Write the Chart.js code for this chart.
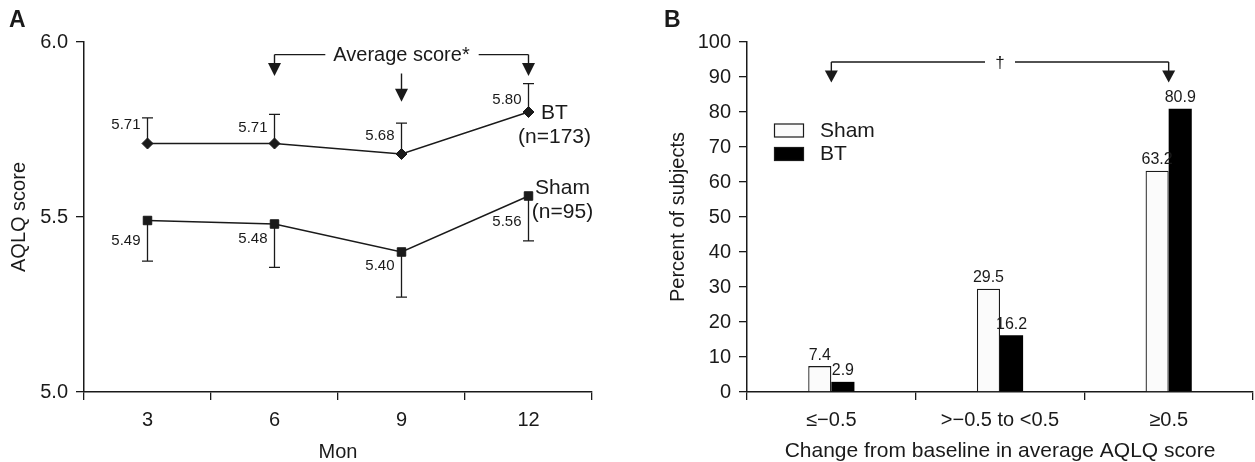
<!DOCTYPE html>
<html><head><meta charset="utf-8">
<script src="https://cdn.jsdelivr.net/npm/chart.js@4"></script>
<style>
html,body{margin:0;padding:0;background:#fff;}
#wrap{position:relative;width:1255px;height:462px;overflow:hidden;background:#fff;}
canvas{position:absolute;top:0;}
#ca{left:0;} #cb{left:620px;}
</style></head><body>
<div id="wrap"><canvas id="ca" width="620" height="462"></canvas><canvas id="cb" width="635" height="462"></canvas></div>
<script>
// ---- Panel A data ----
const months = ['3', '6', '9', '12'];
const btMean = [5.71, 5.71, 5.68, 5.80];
const btUpper = [5.783, 5.793, 5.768, 5.881];
const shamMean = [5.49, 5.48, 5.40, 5.56];
const shamLower = [5.374, 5.356, 5.271, 5.432];
const yTicksA = [5.0, 5.5, 6.0];

// ---- Panel B data ----
const changeCats = ['≤−0.5', '>−0.5 to <0.5', '≥0.5'];
const shamPct = [7.4, 29.5, 63.2];
const btPct = [2.9, 16.2, 80.9];
const yTicksB = [0, 10, 20, 30, 40, 50, 60, 70, 80, 90, 100];

const INK = '#1a1a1a';
const FONT = "'Liberation Sans', Arial, Helvetica, sans-serif";
Chart.defaults.font.family = FONT;
Chart.defaults.color = INK;

function arrowDown(ctx, x, y0, tip, headH, headW) {
  ctx.beginPath(); ctx.moveTo(x, y0); ctx.lineTo(x, tip - headH + 1); ctx.stroke();
  ctx.beginPath(); ctx.moveTo(x - headW / 2, tip - headH); ctx.lineTo(x + headW / 2, tip - headH); ctx.lineTo(x, tip); ctx.closePath(); ctx.fill();
}

const btOff = [-19, -16, -18, -12];
const shamOff = [20, 15, 14, 26];

const panelA = {
  id: 'panelA',
  beforeDatasetsDraw(chart) {
    const {ctx, scales: {x, y}} = chart;
    ctx.save();
    ctx.strokeStyle = INK; ctx.lineWidth = 1.3;
    [[btMean, btUpper], [shamMean, shamLower]].forEach(([m, b]) => m.forEach((v, i) => {
      const px = x.getPixelForValue(i);
      const y0 = y.getPixelForValue(v), y1 = y.getPixelForValue(b[i]);
      ctx.beginPath(); ctx.moveTo(px, y0); ctx.lineTo(px, y1);
      ctx.moveTo(px - 5.5, y1); ctx.lineTo(px + 5.5, y1); ctx.stroke();
    }));
    ctx.restore();
  },
  afterDraw(chart) {
    const {ctx, scales: {x, y}} = chart;
    ctx.save();
    ctx.fillStyle = INK; ctx.strokeStyle = INK;
    // value labels
    ctx.font = '15px ' + FONT; ctx.textAlign = 'right'; ctx.textBaseline = 'middle';
    btMean.forEach((v, i) => ctx.fillText(v.toFixed(2), x.getPixelForValue(i) - 7, y.getPixelForValue(v) + btOff[i]));
    shamMean.forEach((v, i) => ctx.fillText(v.toFixed(2), x.getPixelForValue(i) - 7, y.getPixelForValue(v) + shamOff[i]));
    // series labels
    const last = months.length - 1;
    const lx = x.getPixelForValue(last);
    ctx.font = '21px ' + FONT; ctx.textAlign = 'center';
    const byBT = y.getPixelForValue(btMean[last]);
    ctx.fillText(chart.data.datasets[0].label, lx + 26, byBT + 1);
    ctx.fillText('(n=173)', lx + 26, byBT + 25);
    const bySh = y.getPixelForValue(shamMean[last]);
    ctx.fillText(chart.data.datasets[1].label, lx + 34, bySh - 8);
    ctx.fillText('(n=95)', lx + 34, bySh + 16);
    // Average score bracket
    const x6 = x.getPixelForValue(1), x9 = x.getPixelForValue(2), x12 = x.getPixelForValue(3);
    const yb = y.getPixelForValue(5.964), tip = y.getPixelForValue(5.903);
    const cx = (x6 + x12) / 2;
    ctx.font = '20px ' + FONT;
    const label = 'Average score*';
    const w = ctx.measureText(label).width;
    ctx.fillText(label, cx, yb + 1);
    ctx.lineWidth = 1.4;
    ctx.beginPath(); ctx.moveTo(cx - w / 2 - 8, yb); ctx.lineTo(x6, yb); ctx.stroke();
    ctx.beginPath(); ctx.moveTo(cx + w / 2 + 9, yb); ctx.lineTo(x12, yb); ctx.stroke();
    arrowDown(ctx, x6, yb, tip, 13, 13);
    arrowDown(ctx, x12, yb, tip, 13, 13);
    arrowDown(ctx, x9, y.getPixelForValue(5.91), y.getPixelForValue(5.829), 13, 13);
    // panel letter
    ctx.font = 'bold 23px ' + FONT; ctx.textAlign = 'left'; ctx.textBaseline = 'alphabetic';
    ctx.fillText('A', 9, 27);
    ctx.restore();
  }
};

const panelB = {
  id: 'panelB',
  afterDraw(chart) {
    const {ctx, scales: {x, y}, chartArea} = chart;
    ctx.save();
    ctx.fillStyle = INK; ctx.strokeStyle = INK;
    // bar labels
    ctx.font = '16px ' + FONT; ctx.textAlign = 'center'; ctx.textBaseline = 'middle';
    chart.data.datasets.forEach((ds, di) => {
      chart.getDatasetMeta(di).data.forEach((el, j) => {
        ctx.fillText(ds.data[j].toFixed(1), el.x, el.y - 11);
      });
    });
    // legend
    const lx = chartArea.left + 27;
    const ly = [123.5, 147];
    ctx.font = '21px ' + FONT; ctx.textAlign = 'left';
    chart.data.datasets.forEach((ds, di) => {
      ctx.fillStyle = ds.backgroundColor;
      ctx.fillRect(lx, ly[di], 30, 14);
      ctx.lineWidth = 1.2; ctx.strokeStyle = INK;
      ctx.strokeRect(lx + 0.5, ly[di] + 0.5, 29, 13);
      ctx.fillStyle = INK;
      ctx.fillText(ds.label, lx + 46, ly[di] + 7.5);
    });
    // dagger bracket
    const x0 = x.getPixelForValue(0), x1 = x.getPixelForValue(1), x2 = x.getPixelForValue(2);
    const yb = y.getPixelForValue(94.3), tip = y.getPixelForValue(88.4);
    ctx.lineWidth = 1.4; ctx.strokeStyle = INK;
    ctx.beginPath(); ctx.moveTo(x0, yb); ctx.lineTo(x1 - 15, yb); ctx.moveTo(x1 + 15, yb); ctx.lineTo(x2, yb); ctx.stroke();
    arrowDown(ctx, x0, yb, tip, 12, 13);
    arrowDown(ctx, x2, yb, tip, 12, 13);
    ctx.font = '17px ' + FONT; ctx.textAlign = 'center';
    ctx.fillText('†', x1, yb + 1);
    // panel letter
    ctx.font = 'bold 23px ' + FONT; ctx.textAlign = 'left'; ctx.textBaseline = 'alphabetic';
    ctx.fillText('B', 44, 27);
    ctx.restore();
  }
};

const axisGrid = {drawOnChartArea: false, drawTicks: true, tickLength: 8, color: INK, lineWidth: 1.3};
const axisBorder = {display: true, color: INK, width: 1.5};

new Chart(document.getElementById('ca'), {
  type: 'line',
  data: {
    labels: months,
    datasets: [
      {label: 'BT', data: btMean, borderColor: INK, backgroundColor: INK, borderWidth: 1.4, tension: 0,
       pointStyle: 'rectRot', pointRadius: 5.5, pointBackgroundColor: INK, pointBorderColor: INK, pointBorderWidth: 1},
      {label: 'Sham', data: shamMean, borderColor: INK, backgroundColor: INK, borderWidth: 1.4, tension: 0,
       pointStyle: 'rect', pointRadius: 6, pointBackgroundColor: INK, pointBorderColor: INK, pointBorderWidth: 1}
    ]
  },
  options: {
    responsive: false, animation: false, events: [],
    layout: {padding: {left: 0, top: 42, right: 28, bottom: 0}},
    plugins: {legend: {display: false}, tooltip: {enabled: false}},
    scales: {
      x: {
        type: 'category', offset: true,
        grid: Object.assign({offset: true}, axisGrid), border: axisBorder,
        ticks: {padding: 8, font: {size: 20}, color: INK, maxRotation: 0, autoSkip: false},
        title: {display: true, text: 'Mon', font: {size: 20, lineHeight: 1}, padding: {top: 0, bottom: 0}, color: INK},
        afterFit(s) { s.height = 70; }
      },
      y: {
        min: 5, max: 6,
        afterBuildTicks(s) { s.ticks = yTicksA.map(v => ({value: v})); },
        grid: axisGrid, border: axisBorder,
        ticks: {padding: 8, font: {size: 20}, color: INK, callback: v => Number(v).toFixed(1)},
        title: {display: true, text: 'AQLQ score', font: {size: 20, lineHeight: 1}, padding: {top: 9, bottom: 0}, color: INK},
        afterFit(s) { s.width = 84; }
      }
    }
  },
  plugins: [panelA]
});

new Chart(document.getElementById('cb'), {
  type: 'bar',
  data: {
    labels: changeCats,
    datasets: [
      {label: 'Sham', data: shamPct, backgroundColor: '#fbfbfb', borderColor: INK, borderWidth: 1.3,
       categoryPercentage: 0.274, barPercentage: 1},
      {label: 'BT', data: btPct, backgroundColor: '#000000', borderColor: '#000000', borderWidth: 0,
       categoryPercentage: 0.274, barPercentage: 1}
    ]
  },
  options: {
    responsive: false, animation: false, events: [],
    layout: {padding: {left: 0, top: 42, right: 2, bottom: 0}},
    plugins: {legend: {display: false}, tooltip: {enabled: false}},
    scales: {
      x: {
        grid: Object.assign({offset: true}, axisGrid), border: axisBorder,
        ticks: {padding: 8, font: {size: 20}, color: INK, maxRotation: 0, autoSkip: false},
        title: {display: true, text: 'Change from baseline in average AQLQ score', font: {size: 21, lineHeight: 1}, padding: {top: 0, bottom: 0}, color: INK},
        afterFit(s) { s.height = 70; }
      },
      y: {
        min: 0, max: 100,
        afterBuildTicks(s) { s.ticks = yTicksB.map(v => ({value: v})); },
        grid: axisGrid, border: axisBorder,
        ticks: {padding: 8, font: {size: 20}, color: INK},
        title: {display: true, text: 'Percent of subjects', font: {size: 20, lineHeight: 1}, padding: {top: 48, bottom: 0}, color: INK},
        afterFit(s) { s.width = 127; }
      }
    }
  },
  plugins: [panelB]
});
</script>
</body></html>
